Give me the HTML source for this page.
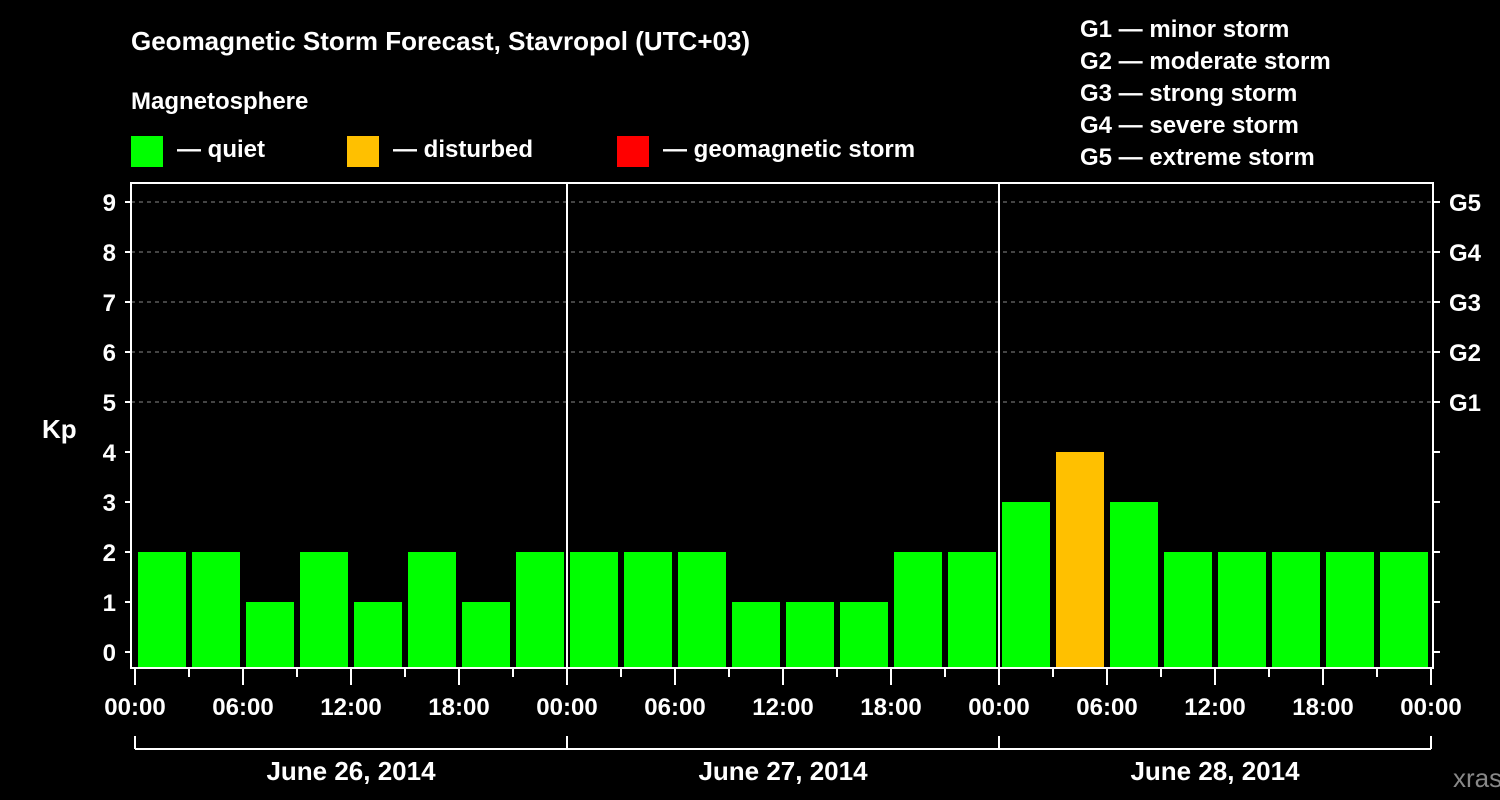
<!DOCTYPE html>
<html><head><meta charset="utf-8"><style>
html,body{margin:0;padding:0;background:#000;width:1500px;height:800px;overflow:hidden}
svg{display:block;font-family:"Liberation Sans",Arial,sans-serif;font-weight:bold}
</style></head><body>
<svg id="chart" width="1500" height="800">
<rect width="1500" height="800" fill="#000"/>
<text x="131" y="50" fill="#fff" font-size="26">Geomagnetic Storm Forecast, Stavropol (UTC+03)</text>
<text x="131" y="109" fill="#fff" font-size="24">Magnetosphere</text>
<g><rect x="131" y="136" width="32" height="31" fill="#00ff00"/><text x="177" y="157" fill="#fff" font-size="24">— quiet</text></g>
<g><rect x="347" y="136" width="32" height="31" fill="#ffc000"/><text x="393" y="157" fill="#fff" font-size="24">— disturbed</text></g>
<g><rect x="617" y="136" width="32" height="31" fill="#ff0000"/><text x="663" y="157" fill="#fff" font-size="24">— geomagnetic storm</text></g>
<g fill="#fff" font-size="24">
<text x="1080" y="37">G1 — minor storm</text>
<text x="1080" y="69">G2 — moderate storm</text>
<text x="1080" y="101">G3 — strong storm</text>
<text x="1080" y="133">G4 — severe storm</text>
<text x="1080" y="165">G5 — extreme storm</text>
</g>
<text x="42" y="438" fill="#fff" font-size="26">Kp</text>
<text x="1453" y="787" fill="#888" font-size="26" font-weight="normal">xras.ru</text>
<g id="grid"></g><g id="bars"></g><g id="axes"></g>
</svg>
<script>
const dayLabels=["June 26, 2014","June 27, 2014","June 28, 2014"];
const kpValues=[2,2,1,2,1,2,1,2, 2,2,2,1,1,1,2,2, 3,4,3,2,2,2,2,2];
const yTicks=[0,1,2,3,4,5,6,7,8,9];
const gLabels={5:"G1",6:"G2",7:"G3",8:"G4",9:"G5"};
const hourLabels=["00:00","06:00","12:00","18:00"];
const NS="http://www.w3.org/2000/svg";
const x0=135,dayW=432,slot=dayW/8;
const X=i=>x0+i*slot;            // i in 3h slots
const Y=v=>652-v*50;
const L=131,R=1433,T=183,B=668;
function mk(p,tag,a,txt){const e=document.createElementNS(NS,tag);for(const k in a)e.setAttribute(k,a[k]);if(txt!=null)e.textContent=txt;p.appendChild(e);return e;}
const grid=document.getElementById('grid'),bars=document.getElementById('bars'),axes=document.getElementById('axes');
yTicks.forEach(v=>{
 if(v>=5){const g=mk(grid,'line',{x1:L,x2:R,y1:Y(v),y2:Y(v),stroke:'#888','stroke-dasharray':'4,4','stroke-width':1});
 
 }
 mk(axes,'line',{x1:125,x2:L,y1:Y(v),y2:Y(v),stroke:'#fff','stroke-width':2});
 mk(axes,'line',{x1:R,x2:R+7,y1:Y(v),y2:Y(v),stroke:'#fff','stroke-width':2});
 const t=mk(axes,'text',{x:116,y:Y(v)+9,fill:'#fff','font-size':24,'text-anchor':'end'},String(v));
 
 
 if(gLabels[v]){const g=mk(axes,'text',{x:1449,y:Y(v)+9,fill:'#fff','font-size':24},gLabels[v]);
 
 }
});
kpValues.forEach((v,i)=>{
 const c=v>=5?'#ff0000':(v>=4?'#ffc000':'#00ff00');
 const r=mk(bars,'rect',{x:X(i)+3,y:Y(v),width:slot-6,height:B-1-Y(v),fill:c});
 
 
});
mk(axes,'rect',{x:L,y:T,width:R-L,height:B-T,fill:'none',stroke:'#fff','stroke-width':2});
for(let d=1;d<dayLabels.length;d++) mk(axes,'line',{x1:x0+d*dayW,x2:x0+d*dayW,y1:T,y2:B,stroke:'#fff','stroke-width':2});
for(let i=0;i<=kpValues.length;i++){
 const major=i%2===0;
 mk(axes,'line',{x1:X(i),x2:X(i),y1:B,y2:B+(major?17:9),stroke:'#fff','stroke-width':2});
 if(major){const t=mk(axes,'text',{x:X(i),y:715,fill:'#fff','font-size':24,'text-anchor':'middle'},hourLabels[(i/2)%4]);
 
 }
}
mk(axes,'line',{x1:x0,x2:x0+dayLabels.length*dayW,y1:749,y2:749,stroke:'#fff','stroke-width':2});
dayLabels.forEach((d,k)=>{
 mk(axes,'line',{x1:x0+k*dayW,x2:x0+k*dayW,y1:736,y2:749,stroke:'#fff','stroke-width':2});
 const t=mk(axes,'text',{x:x0+k*dayW+dayW/2,y:780,fill:'#fff','font-size':26,'text-anchor':'middle'},d);
 
 
});
mk(axes,'line',{x1:x0+dayLabels.length*dayW,x2:x0+dayLabels.length*dayW,y1:736,y2:749,stroke:'#fff','stroke-width':2});
</script>
</body></html>
